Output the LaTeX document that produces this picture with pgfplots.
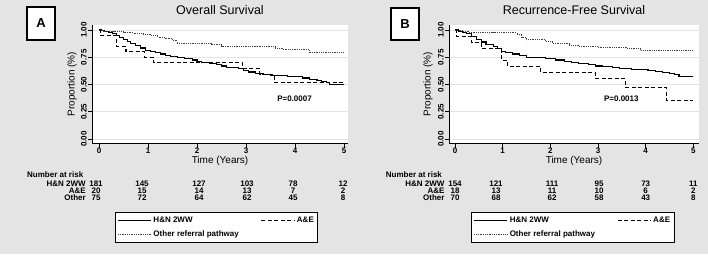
\documentclass[border=0pt]{standalone}
\usepackage{fontspec}
\setmainfont{Liberation Sans}
\usepackage{pgfplots}
\pgfplotsset{compat=1.18}
\definecolor{bg}{HTML}{E4E4E4}
\definecolor{gridc}{HTML}{E4E4E4}
\newcommand{\sm}{\fontsize{8}{9}\selectfont\bfseries}
\pgfplotsset{
  kmstyle/.style={
    scale only axis, height=118.5pt,
    ymin=-0.041, ymax=1.046,
    axis background/.style={fill=white},
    axis x line*=bottom, axis y line*=left,
    axis line style={black, line width=0.9pt},
    tick align=outside, major tick length=4pt,
    tick style={black, line width=0.8pt},
    xtick={0,1,2,3,4,5}, xticklabels={0,1,2,3,4,5},
    ytick={0,0.25,0.5,0.75,1}, yticklabels={0.00,0.25,0.50,0.75,1.00},
    ymajorgrids, grid style={gridc, line width=0.9pt},
    tick label style={font=\fontsize{8}{9}\selectfont\bfseries},
    yticklabel style={rotate=90, anchor=south, inner sep=1pt},
    xticklabel style={inner sep=0.5pt},
    ylabel={Proportion (\%)}, xlabel={Time (Years)},
    label style={font=\sm},
    every axis x label/.style={at={(axis description cs:0.5,-0.15)}, anchor=center},
    title style={font=\fontsize{12.5}{14}\selectfont, at={(axis description cs:0.5,1)}, anchor=center, yshift=9pt},
    legend style={draw=black, line width=0.8pt, fill=white, font=\sm,
      legend columns=2, inner xsep=2pt, inner ysep=2.5pt, row sep=2.5pt,
      /tikz/every even column/.append style={column sep=20pt}},
    legend cell align=left,
    legend image code/.code={\draw[#1] (0pt,0pt) -- (33pt,0pt);},
  },
  solidS/.style={black, line width=1.1pt, solid},
  dashS/.style={black, line width=1.1pt, dash pattern=on 4pt off 2.5pt},
  dotS/.style={black!75, line width=0.9pt, dash pattern=on 0.9pt off 0.9pt},
}
\begin{document}
\begin{tikzpicture}
\fill[bg] (0pt,0pt) rectangle (708pt,254pt);

% ---------------- Panel A ----------------
\begin{axis}[kmstyle, at={(92pt,110.5pt)}, anchor=south west,
  width=256pt, xmin=-0.143, xmax=5.082,
  title={Overall Survival},
  every axis y label/.style={at={(axis description cs:-0.078,0.5)}, rotate=90, anchor=center},
  legend style={at={(axis description cs:0.0898,-0.578)}, anchor=north west}]
\addplot[solidS, const plot, no marks] coordinates {
(0,1)(0.05,0.995)(0.12,0.985)(0.2,0.975)(0.28,0.965)(0.35,0.95)(0.42,0.935)(0.5,0.915)(0.58,0.895)(0.65,0.88)(0.75,0.86)(0.85,0.835)(0.95,0.815)(1.05,0.80)(1.15,0.79)(1.25,0.78)(1.35,0.77)(1.45,0.76)(1.6,0.75)(1.75,0.74)(1.9,0.725)(2.0,0.71)(2.1,0.70)(2.25,0.69)(2.4,0.68)(2.5,0.67)(2.6,0.66)(2.75,0.655)(2.85,0.645)(2.95,0.63)(3.05,0.615)(3.2,0.605)(3.35,0.595)(3.5,0.585)(3.7,0.58)(3.85,0.575)(4.0,0.57)(4.15,0.56)(4.3,0.55)(4.45,0.54)(4.55,0.53)(4.65,0.52)(4.7,0.50)(5.0,0.50)};
\addlegendentry{H\&N 2WW}
\addplot[dashS, const plot, no marks] coordinates {
(0,1)(0.03,0.95)(0.35,0.85)(0.55,0.80)(0.93,0.75)(1.12,0.70)(2.93,0.65)(3.28,0.59)(3.58,0.52)(5.0,0.52)};
\addlegendentry{A\&E}
\addplot[dotS, const plot, no marks] coordinates {
(0,1)(0.1,0.99)(0.3,0.985)(0.5,0.975)(0.7,0.97)(0.9,0.96)(1.05,0.95)(1.2,0.935)(1.35,0.92)(1.5,0.90)(1.6,0.875)(2.3,0.865)(2.5,0.85)(3.2,0.845)(3.6,0.835)(3.75,0.82)(4.3,0.79)(5,0.79)};
\addlegendentry{Other referral pathway}
\node[font=\fontsize{8}{9}\selectfont\bfseries] at (axis cs:3.99,0.367) {P=0.0007};
\end{axis}

% ---------------- Panel B ----------------
\begin{axis}[kmstyle, at={(449pt,110.5pt)}, anchor=south west,
  width=250pt, xmin=-0.126, xmax=5.12,
  title={Recurrence-Free Survival},
  every axis y label/.style={at={(axis description cs:-0.084,0.5)}, rotate=90, anchor=center},
  legend style={at={(axis description cs:0.089,-0.578)}, anchor=north west}]
\addplot[solidS, const plot, no marks] coordinates {
(0,1)(0.08,0.99)(0.15,0.98)(0.25,0.965)(0.35,0.94)(0.45,0.915)(0.55,0.89)(0.65,0.87)(0.8,0.85)(0.9,0.83)(0.97,0.80)(1.05,0.79)(1.2,0.78)(1.35,0.765)(1.5,0.75)(1.7,0.745)(1.9,0.735)(2.1,0.725)(2.3,0.715)(2.45,0.705)(2.6,0.695)(2.8,0.685)(2.95,0.67)(3.1,0.665)(3.3,0.655)(3.45,0.645)(3.7,0.64)(3.9,0.635)(4.05,0.625)(4.2,0.62)(4.35,0.61)(4.5,0.60)(4.6,0.59)(4.7,0.575)(5.0,0.575)};
\addlegendentry{H\&N 2WW}
\addplot[dashS, const plot, no marks] coordinates {
(0,1)(0.03,0.944)(0.34,0.889)(0.55,0.833)(0.97,0.722)(1.1,0.667)(1.8,0.611)(2.94,0.555)(3.57,0.476)(4.43,0.357)(5.0,0.357)};
\addlegendentry{A\&E}
\addplot[dotS, const plot, no marks] coordinates {
(0,1)(0.15,0.99)(0.3,0.98)(0.8,0.975)(1.3,0.96)(1.4,0.93)(1.5,0.91)(1.9,0.895)(2.05,0.875)(2.4,0.86)(2.6,0.85)(3.0,0.84)(3.6,0.83)(3.9,0.81)(5,0.81)};
\addlegendentry{Other referral pathway}
\node[font=\fontsize{8}{9}\selectfont\bfseries] at (axis cs:3.49,0.367) {P=0.0013};
\end{axis}

% panel letters
\draw[line width=1.2pt, fill=white] (27pt,214pt) rectangle (55pt,247pt);
\node[font=\fontsize{13}{15}\selectfont\bfseries] at (41pt,230.5pt) {A};
\draw[line width=1.2pt, fill=white] (391pt,214pt) rectangle (419pt,246pt);
\node[font=\fontsize{13}{15}\selectfont\bfseries] at (405pt,230pt) {B};

\begin{scope}[every node/.style={font=\sm, inner sep=0pt}]
% number at risk A
\node[anchor=west] at (27pt,79pt) {Number at risk};
\node[anchor=east] at (86pt,70pt) {H\&N 2WW};
\node[anchor=east] at (86pt,63pt) {A\&E};
\node[anchor=east] at (86pt,56pt) {Other};
\foreach \x/\a/\b/\c in {96/181/20/75, 142/145/15/72, 199/127/14/64, 247/103/13/62, 293/78/7/45, 343/12/2/8}{
  \node at (\x pt,70pt) {\a};
  \node at (\x pt,63pt) {\b};
  \node at (\x pt,56pt) {\c};
}
% number at risk B
\node[anchor=west] at (385.7pt,79pt) {Number at risk};
\node[anchor=east] at (444.7pt,70pt) {H\&N 2WW};
\node[anchor=east] at (444.7pt,63pt) {A\&E};
\node[anchor=east] at (444.7pt,56pt) {Other};
\foreach \x/\a/\b/\c in {455/154/18/70, 496/121/13/68, 552/111/11/62, 599/95/10/58, 645.7/73/6/43, 693.3/11/2/8}{
  \node at (\x pt,70pt) {\a};
  \node at (\x pt,63pt) {\b};
  \node at (\x pt,56pt) {\c};
}
\end{scope}
\end{tikzpicture}
\end{document}
